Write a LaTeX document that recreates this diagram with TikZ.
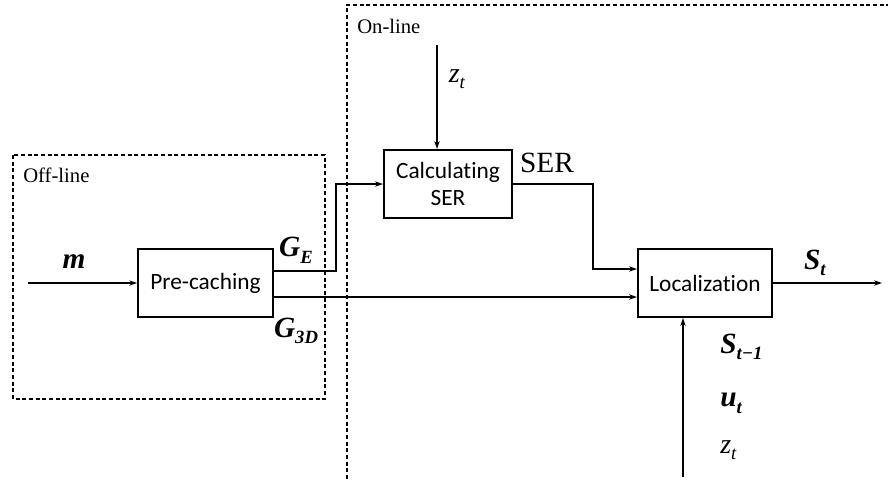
\documentclass[tikz,border=0pt]{standalone}
\usepackage{fontspec}
\setmainfont{Liberation Serif}
\newfontfamily\boxfont[Ligatures=NoCommon]{Carlito}
\usetikzlibrary{arrows.meta}
\newcommand{\varlab}[2]{\textbf{\textit{#1}}\raisebox{-0.5ex}{\fontsize{14}{14}\selectfont\textbf{\textit{#2}}}}
\newcommand{\thinlab}[2]{\textit{#1}\raisebox{-0.5ex}{\fontsize{14}{14}\selectfont\textit{#2}}}

\begin{document}
\begin{tikzpicture}[x=0.75pt, y=-0.75pt,
  block/.style={draw, line width=1.5pt, font=\boxfont\fontsize{17.5}{20}\selectfont, align=center, inner sep=0pt},
  flow/.style={line width=1.1pt, -{Stealth[length=6pt,width=4pt]}},
  frame/.style={dash pattern=on 3pt off 2pt, line width=0.8pt},
  sym/.style={font=\fontsize{22}{24}\selectfont, inner sep=0pt},
  tag/.style={font=\fontsize{15.5}{18}\selectfont, anchor=west, inner sep=0pt}]
\useasboundingbox (0,0) rectangle (888,479);
\draw[frame] (13,155) rectangle (325,399);
\draw[frame] (347,479) -- (347,5) -- (888,5);
\node[tag] (offtag) at (23,175) {Off-line};
\node[tag] (ontag) at (357,26) {On-line};
\node[block, minimum width=101pt, minimum height=51pt] (pre) at (205.5,283) {Pre-caching};
\node[block, minimum width=96pt, minimum height=51pt] (calc) at (448,184) {Calculating\\SER};
\node[block, minimum width=100.5pt, minimum height=51pt] (loc) at (705,283) {Localization};
\coordinate (min) at (28,283);
\coordinate (zin) at (437,45);
\coordinate (zbot) at (683,477);
\coordinate (out) at (882,282);
\draw[flow] (min) -- (pre.west);
\draw[flow] ([yshift=9pt]pre.east) -- ++(62,0) |- (calc.west);
\draw[flow] ([yshift=-10.5pt]pre.east) -- ([yshift=-10.5pt]loc.west);
\draw[flow] (zin) -- (zin |- calc.north);
\draw[flow] (calc.east) -- ++(80,0) |- ([yshift=10.5pt]loc.west);
\draw[flow] (loc.east) -- (loc.east -| out);
\draw[flow] (zbot) -- (zbot |- loc.south);
\node[sym] (mlab) at (74,262) {\textbf{\textit{m}}};
\node[sym] (gelab) at (296,250) {\varlab{G}{E}};
\node[sym] (g3dlab) at (296,331) {\varlab{G}{3D}};
\node[sym, font=\fontsize{21}{24}\selectfont] (zlab) at (457,79) {\thinlab{z}{t}};
\node[sym, font=\fontsize{22}{24}\selectfont] (serlab) at (547,163) {SER};
\node[sym] (slab) at (815,263) {\varlab{S}{t}};
\node[sym, anchor=west] (sprev) at (720,347) {\varlab{S}{t−1}};
\node[sym, anchor=west] (ulab) at (720,403) {\varlab{u}{t}};
\node[sym, anchor=west, font=\fontsize{21}{24}\selectfont] (zlab2) at (720,450) {\thinlab{z}{t}};
\end{tikzpicture}
\end{document}
